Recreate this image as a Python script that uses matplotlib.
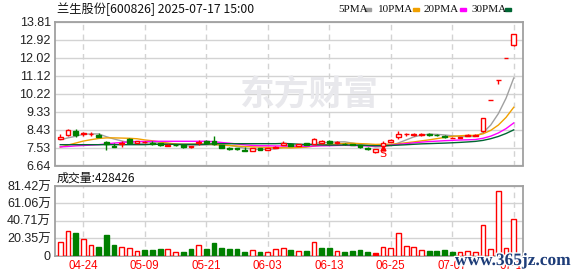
import numpy as np
import pandas as pd
import matplotlib
matplotlib.use('Agg')
import matplotlib.pyplot as plt
import matplotlib.patheffects as pe

plt.rcParams['font.family'] = ['Liberation Sans', 'Noto Sans CJK SC', 'DejaVu Sans']

# ---------------- data ----------------
dates = ['04-21', '04-22', '04-23', '04-24', '04-25', '04-28', '04-29', '04-30', '05-06', '05-07',
         '05-08', '05-09', '05-12', '05-13', '05-14', '05-15', '05-16', '05-19', '05-20', '05-21',
         '05-22', '05-23', '05-26', '05-27', '05-28', '05-29', '05-30', '06-03', '06-04', '06-05',
         '06-06', '06-09', '06-10', '06-11', '06-12', '06-13', '06-16', '06-17', '06-18', '06-19',
         '06-20', '06-23', '06-24', '06-25', '06-26', '06-27', '06-30', '07-01', '07-02', '07-03',
         '07-04', '07-07', '07-08', '07-09', '07-10', '07-11', '07-14', '07-15', '07-16', '07-17']

opens = [7.98, 8.16, 8.35, 8.19, 8.20, 8.18, 7.81, 7.60, 7.71, 7.95,
         7.78, 7.80, 7.76, 7.75, 7.63, 7.68, 7.65, 7.56, 7.74, 7.85,
         7.85, 7.65, 7.51, 7.49, 7.41, 7.38, 7.51, 7.42, 7.53, 7.68,
         7.70, 7.63, 7.74, 7.71, 7.75, 7.88, 7.75, 7.73, 7.70, 7.65,
         7.52, 7.33, 7.62, 7.81, 8.08, 8.19, 8.18, 8.18, 8.19, 8.17,
         8.12, 8.02, 8.02, 8.11, 8.12, 8.35, 9.92, 10.91, 12.00, 12.68]
closes = [8.08, 8.40, 8.15, 8.24, 8.22, 8.08, 7.71, 7.57, 7.76, 7.78,
          7.85, 7.81, 7.73, 7.65, 7.66, 7.64, 7.55, 7.59, 7.81, 7.75,
          7.70, 7.51, 7.48, 7.46, 7.36, 7.51, 7.41, 7.52, 7.56, 7.74,
          7.62, 7.70, 7.68, 7.98, 7.88, 7.75, 7.80, 7.71, 7.66, 7.55,
          7.47, 7.46, 7.78, 7.93, 8.20, 8.21, 8.22, 8.23, 8.17, 8.15,
          8.06, 8.03, 8.04, 8.15, 8.16, 9.02, 9.92, 10.91, 12.00, 13.20]
highs = [8.21, 8.46, 8.46, 8.33, 8.30, 8.24, 7.84, 7.78, 7.85, 8.00,
         7.88, 7.85, 7.84, 7.78, 7.70, 7.70, 7.66, 7.62, 7.91, 7.90,
         8.11, 7.67, 7.56, 7.53, 7.55, 7.52, 7.53, 7.53, 7.60, 7.85,
         7.73, 7.72, 7.76, 8.03, 7.93, 7.93, 7.84, 7.75, 7.72, 7.67,
         7.56, 7.48, 7.84, 7.95, 8.38, 8.28, 8.27, 8.26, 8.24, 8.20,
         8.14, 8.08, 8.06, 8.22, 8.19, 9.02, 9.92, 10.91, 12.00, 13.20]
lows = [7.95, 8.13, 8.08, 8.11, 8.12, 8.06, 7.41, 7.55, 7.58, 7.75,
        7.76, 7.76, 7.68, 7.63, 7.61, 7.62, 7.53, 7.52, 7.68, 7.73,
        7.68, 7.50, 7.41, 7.40, 7.35, 7.37, 7.40, 7.41, 7.50, 7.65,
        7.60, 7.60, 7.66, 7.70, 7.73, 7.73, 7.72, 7.68, 7.64, 7.53,
        7.43, 7.28, 7.58, 7.79, 7.95, 8.11, 8.12, 8.13, 8.12, 8.12,
        8.02, 8.00, 7.99, 8.09, 8.09, 8.33, 9.92, 10.70, 12.00, 12.60]

volumes = [15.8, 28.7, 26.7, 19.0, 12.3, 10.0, 24.0, 12.3, 10.0, 8.4,
           5.3, 6.4, 6.4, 7.6, 7.6, 4.5, 4.5, 7.6, 12.3, 7.6,
           15.0, 8.8, 7.6, 7.6, 4.1, 6.1, 4.1, 3.7, 7.2, 8.4,
           6.4, 5.3, 5.3, 15.8, 8.8, 8.8, 5.3, 4.1, 5.3, 6.4,
           4.1, 2.9, 9.6, 8.8, 26.4, 11.1, 9.6, 6.1, 5.3, 5.3,
           6.4, 4.1, 3.7, 5.3, 4.1, 35.7, 7.6, 75.6, 8.8, 42.84]  # 万
# R = rising (hollow red), G = falling (green), F = flat (filled red)
vol_kind = list("RRGRRGGGRRRGGGRRGGRGG" "GGGGRGRRRGRGRGGRGGGG" "FRRRRRRGGGGRRRRRRRR")

ma5_head = [7.92, 8.02, 8.10, 8.20]
ma10_head = [7.56, 7.66, 7.76, 7.86, 7.93, 7.99, 8.02, 8.02, 8.01]
ma20_head = [7.57, 7.59, 7.62, 7.64, 7.66, 7.68, 7.72, 7.76, 7.79, 7.82,
             7.84, 7.84, 7.85, 7.85, 7.85, 7.85, 7.85, 7.85, 7.85]
ma30_head = [7.68] * 12 + [7.70] * 8 + [7.73] * 9

price_ticks = [6.64, 7.53, 8.43, 9.33, 10.22, 11.12, 12.02, 12.92, 13.81]
vol_ticks = [0, 20.35, 40.71, 61.06, 81.42]
vol_tick_labels = ['0', '20.35万', '40.71万', '61.06万', '81.42万']
date_tick_labels = ['04-24', '05-09', '05-21', '06-03', '06-13', '06-25', '07-07', '07-17']

title = '兰生股份[600826] 2025-07-17 15:00'
last_volume = 428426
signal_date = '06-24'
signal_text = 'S'

# ---------------- style ----------------
RED = '#ff0000'
GREEN = '#008000'
GRID = '#d3d3d3'
BORDER = '#a0a0a0'
ma_colors = {5: '#a0a0a0', 10: '#f0a000', 20: '#ff00ff', 30: '#006633'}

W, H = 578, 276
fig = plt.figure(figsize=(W / 100, H / 100), dpi=100)


def box(l, t, r, b):
    return [l / W, 1 - b / H, (r - l) / W, (b - t) / H]


ax1 = fig.add_axes(box(55, 22, 522.5, 165.5))
ax2 = fig.add_axes(box(55, 186, 522.5, 255.5))

x = np.arange(len(dates))
o = np.array(opens)
c = np.array(closes)
h = np.array(highs)
lo = np.array(lows)
up = c >= o
cols = np.where(up, RED, GREEN)
xlim = (-0.68, 60.14)

# watermark
fig.text(309 / W, 1 - 94 / H, '东方财富', fontsize=25, color='#e8e8ec', fontweight='bold',
         ha='center', va='center', family=['Noto Sans CJK SC'], zorder=0)

# price panel
ax1.vlines(x, lo, h, colors=cols, lw=1, zorder=3)
ax1.bar(x, np.abs(c - o), bottom=np.minimum(o, c), width=0.62,
        facecolor=np.where(up, 'white', GREEN), edgecolor=cols, linewidth=1, zorder=4)

s = pd.Series(closes)
for n, head in [(5, ma5_head), (10, ma10_head), (20, ma20_head), (30, ma30_head)]:
    ma = s.rolling(n).mean().to_numpy()
    ma[:n - 1] = head
    ax1.plot(x, ma, color=ma_colors[n], lw=1, zorder=2)

si = dates.index(signal_date)
ax1.plot([si], [lows[si] - 0.06], marker='^', ms=3.5, color=RED, zorder=5, clip_on=False)
ax1.text(si, lows[si] - 0.38, signal_text, color=RED, fontsize=8, ha='center', va='center',
         family=['DejaVu Sans'], zorder=5)

ax1.set_xlim(*xlim)
ax1.set_ylim(price_ticks[0], price_ticks[-1])
ax1.set_yticks(price_ticks)
ax1.set_yticklabels([f'{v:.2f}' for v in price_ticks])
ax1.set_xticks([])

# volume panel
vk = np.array(vol_kind)
vcol = np.where(vk == 'G', GREEN, RED)
vface = np.where(vk == 'R', 'white', vcol)
ax2.bar(x, volumes, width=0.62, facecolor=vface, edgecolor=vcol, linewidth=1, zorder=4)
ax2.set_xlim(*xlim)
ax2.set_ylim(vol_ticks[0], vol_ticks[-1])
ax2.set_yticks(vol_ticks)
ax2.set_yticklabels(vol_tick_labels)
tick_pos = [dates.index(d) for d in date_tick_labels]
ax2.set_xticks(tick_pos)
ax2.set_xticklabels(date_tick_labels, color=RED, fontsize=8)

for ax in (ax1, ax2):
    ax.set_facecolor('none')
    ax.grid(axis='y', color=GRID, lw=1, ls='-', zorder=0)
    for p in tick_pos:
        ax.axvline(p, color=GRID, lw=1, ls=(0, (4, 3)), zorder=0)
    for sp in ax.spines.values():
        sp.set_color(BORDER)
        sp.set_linewidth(1.3)
    ax.tick_params(length=0, pad=3, labelsize=9, labelcolor='#222222')
ax2.tick_params(axis='x', labelsize=8.3, labelcolor=RED, pad=3)

# texts
fig.text(57 / W, 1 - 9 / H, title, fontsize=8.8, ha='left', va='center',
         family=['Noto Sans CJK SC', 'DejaVu Sans'], color='#111111')
fig.text(57 / W, 1 - 178 / H, f'成交量:{last_volume}', fontsize=8.6, ha='left', va='center',
         family=['Noto Sans CJK SC', 'DejaVu Sans'], color='#111111')

legend_items = [('5PMA', 338, 365, 5), ('10PMA', 378, 413, 10),
                ('20PMA', 424, 460, 20), ('30PMA', 471, 505, 30)]
for label, px, sq, n in legend_items:
    fig.text(px / W, 1 - 9 / H, label, fontsize=8, ha='left', va='center',
             family=['Liberation Serif'], color='#111111')
    fig.patches.append(plt.Rectangle((sq / W, 1 - 11 / H), 6 / W, 3.5 / H,
                                     transform=fig.transFigure, color=ma_colors[n]))

fig.text(513 / W, 1 - 261 / H, 'www.365jz.com', fontsize=12.5, ha='center', va='center',
         family=['Liberation Serif'], color='#1d3c78', fontweight='bold',
         path_effects=[pe.withStroke(linewidth=2, foreground='white')], zorder=10)

fig.savefig('out.png', dpi=100)
